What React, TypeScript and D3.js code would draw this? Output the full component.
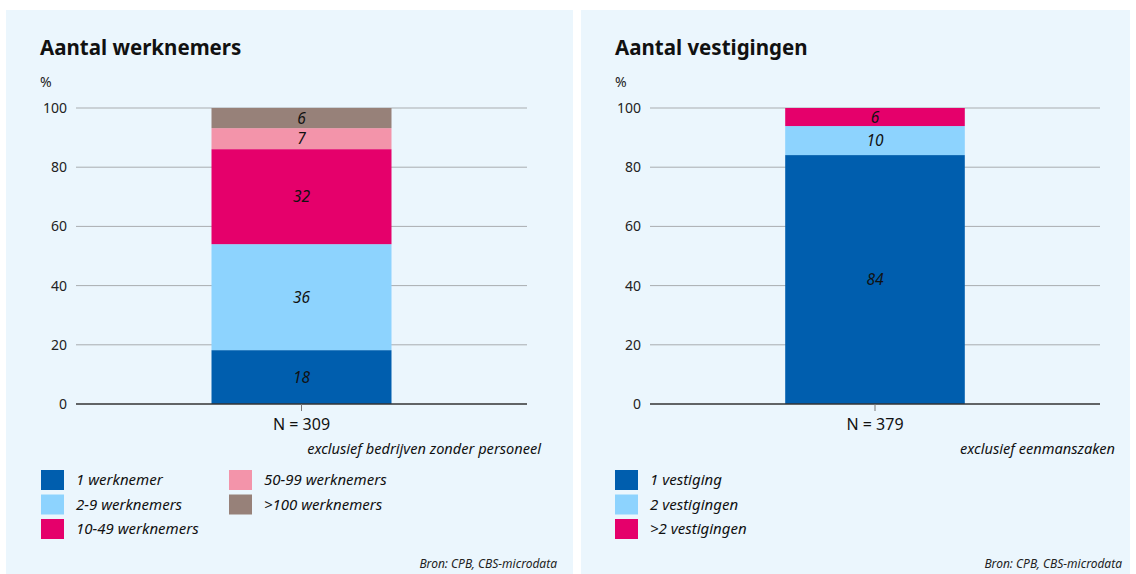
import * as d3 from 'd3'

const W = 1136
const H = 574

// Aantal werknemers
const EMP_CATEGORIES = ['1 werknemer', '2-9 werknemers', '10-49 werknemers', '50-99 werknemers', '>100 werknemers']
const EMP_VALUES = [18.2, 35.8, 32.1, 7.1, 6.8]
const EMP_LABELS = ['18', '36', '32', '7', '6']
const EMP_COLORS = ['#005eae', '#8dd3fe', '#e5006b', '#f394aa', '#978179']

// Aantal vestigingen
const EST_CATEGORIES = ['1 vestiging', '2 vestigingen', '>2 vestigingen']
const EST_VALUES = [84.1, 9.8, 6.1]
const EST_LABELS = ['84', '10', '6']
const EST_COLORS = ['#005eae', '#8dd3fe', '#e5006b']

const Y_TICKS = [0, 20, 40, 60, 80, 100]

const FONT = '"Noto Sans", "Open Sans", sans-serif'
const BG = '#ebf6fd'

type PanelProps = {
  x0: number
  width: number
  title: string
  nLabel: string
  note: string
  noteX: number
  sourceX: number
  categories: string[]
  values: number[]
  labels: string[]
  colors: string[]
  gridLeft: number
  gridRight: number
  legendCols: number[][]
  legendColX: number[]
}

function Panel(p: PanelProps) {
  const y = d3.scaleLinear().domain([0, 100]).range([404, 108])
  const x = d3.scaleBand<string>().domain([p.nLabel]).range([p.gridLeft, p.gridRight]).padding(0.4295)

  let acc = 0
  const segs = p.values.map((v, i) => {
    const s = { y0: acc, y1: acc + v, color: p.colors[i], label: p.labels[i] }
    acc += v
    return s
  })

  const bx = x(p.nLabel) ?? 0
  const bw = x.bandwidth()
  const cx = bx + bw / 2
  const left = p.x0

  return (
    <g>
      <rect x={left} y={10} width={p.width} height={H - 10} fill={BG} />
      <text x={left + 34} y={55} fontFamily={FONT} fontWeight={700} fontSize={20.5} fill="#111">{p.title}</text>
      <text x={left + 34} y={87} fontFamily={FONT} fontSize={14} fill="#222">%</text>

      {Y_TICKS.map(t => (
        <g key={t}>
          {t > 0 && (
            <line x1={p.gridLeft} x2={p.gridRight} y1={y(t)} y2={y(t)} stroke="#a9adb0" strokeWidth={1} />
          )}
          <text x={p.gridLeft - 9} y={y(t) + 5} textAnchor="end" fontFamily={FONT} fontSize={14} fill="#222">{t}</text>
        </g>
      ))}

      {segs.map((s, i) => (
        <g key={i}>
          <rect x={bx} width={bw} y={y(s.y1)} height={y(s.y0) - y(s.y1)} fill={s.color} />
          <text x={cx} y={(y(s.y0) + y(s.y1)) / 2 + 5.5} textAnchor="middle" fontFamily={FONT}
            fontStyle="italic" fontSize={15.5} fill="#111">{s.label}</text>
        </g>
      ))}

      <line x1={p.gridLeft} x2={p.gridRight} y1={y(0)} y2={y(0)} stroke="#333" strokeWidth={1.5} />
      <line x1={cx} x2={cx} y1={y(0)} y2={y(0) + 7} stroke="#777" strokeWidth={1} />
      <text x={cx} y={430} textAnchor="middle" fontFamily={FONT} fontSize={16} fill="#111">{p.nLabel}</text>
      <text x={p.noteX} y={454} textAnchor="end" fontFamily={FONT} fontStyle="italic" fontSize={14.6} fill="#111">{p.note}</text>

      {p.legendCols.map((col, ci) =>
        col.map((idx, ri) => (
          <g key={idx} transform={`translate(${p.legendColX[ci]},${470 + ri * 24.5})`}>
            <rect x={0} y={0} width={23} height={20} fill={p.colors[idx]} />
            <text x={35} y={15} fontFamily={FONT} fontStyle="italic" fontSize={15} fill="#111">{p.categories[idx]}</text>
          </g>
        ))
      )}

      <text x={p.sourceX} y={568} textAnchor="end" fontFamily={FONT} fontStyle="italic" fontSize={12} fill="#222">Bron: CPB, CBS-microdata</text>
    </g>
  )
}

export default function App() {
  return (
    <div style={{ position: 'absolute', left: 0, top: 0 }}>
      <svg width={W} height={H} style={{ display: 'block', background: '#fff' }}>
        <Panel
          x0={6} width={567}
          title="Aantal werknemers" nLabel="N = 309"
          note="exclusief bedrijven zonder personeel" noteX={541} sourceX={557}
          categories={EMP_CATEGORIES} values={EMP_VALUES} labels={EMP_LABELS} colors={EMP_COLORS}
          gridLeft={76} gridRight={527}
          legendCols={[[0, 1, 2], [3, 4]]} legendColX={[41, 229]}
        />
        <Panel
          x0={581} width={549}
          title="Aantal vestigingen" nLabel="N = 379"
          note="exclusief eenmanszaken" noteX={1115} sourceX={1122}
          categories={EST_CATEGORIES} values={EST_VALUES} labels={EST_LABELS} colors={EST_COLORS}
          gridLeft={650} gridRight={1100}
          legendCols={[[0, 1, 2]]} legendColX={[615]}
        />
      </svg>
    </div>
  )
}
